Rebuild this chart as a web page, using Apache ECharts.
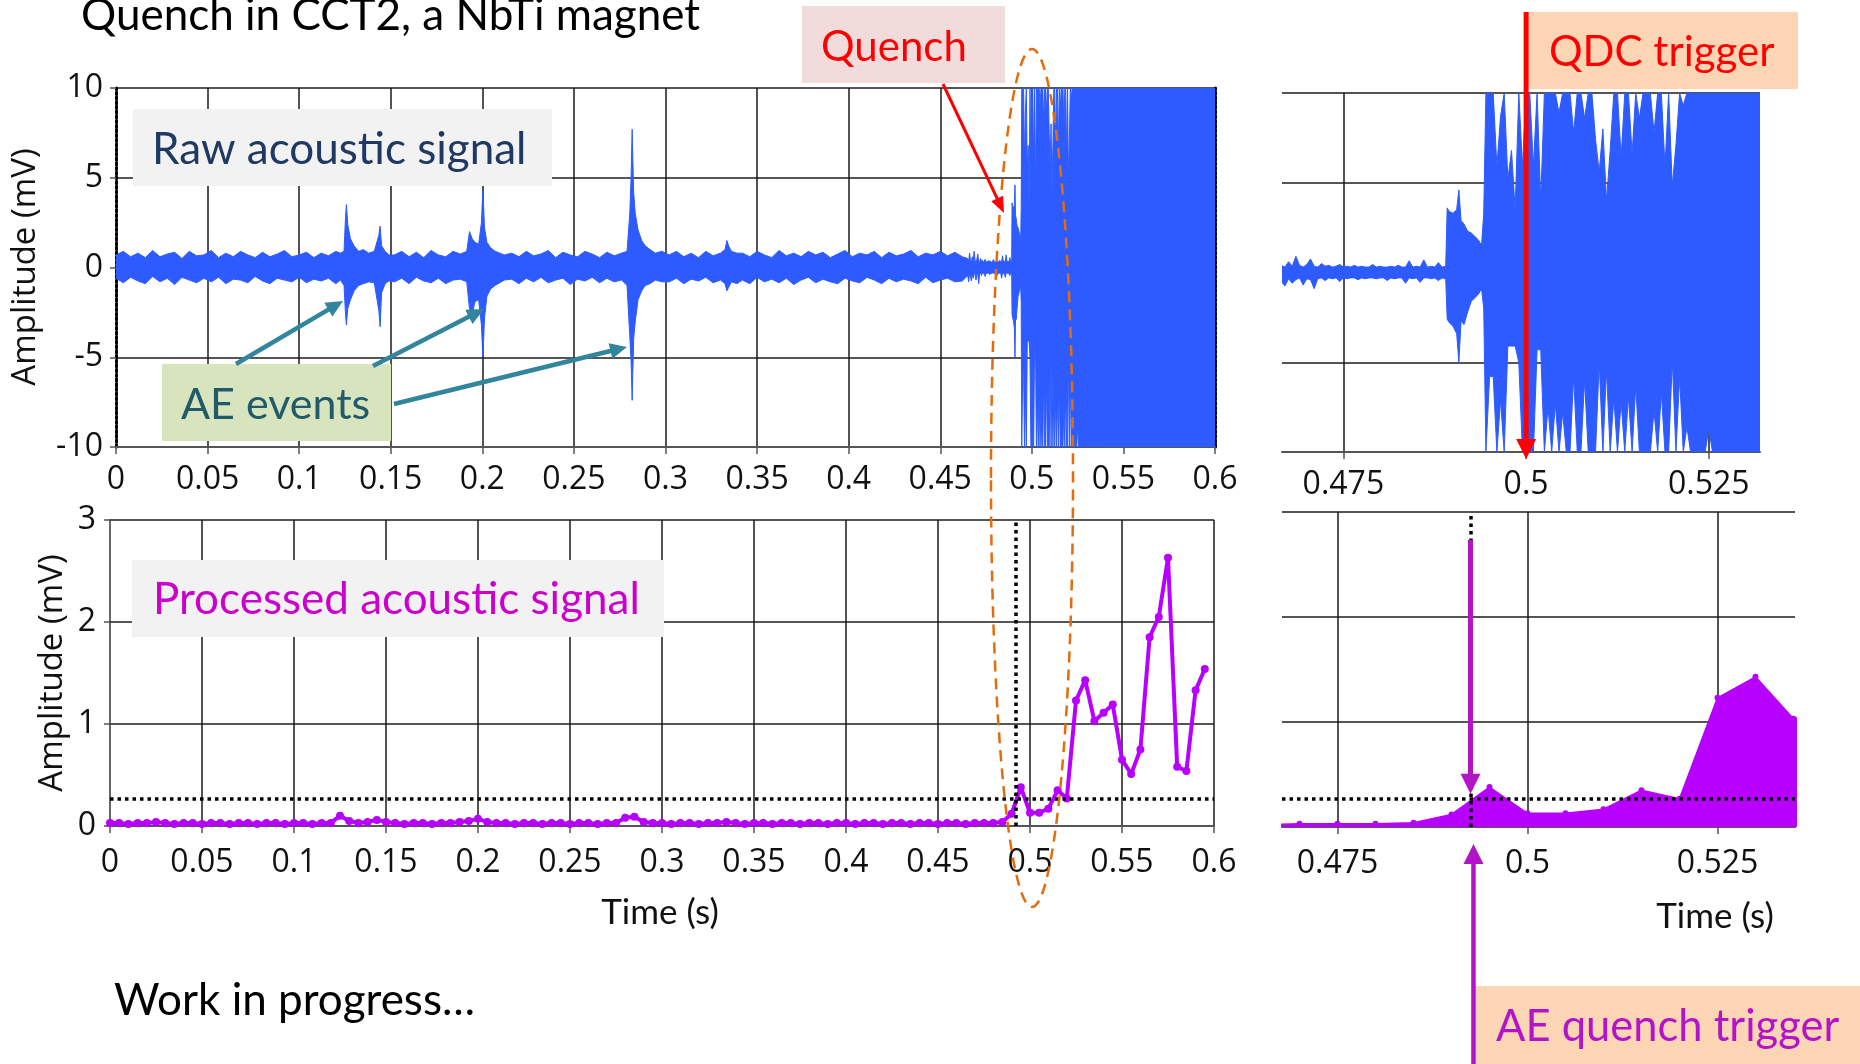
<!DOCTYPE html>
<html>
<head>
<meta charset="utf-8">
<title>Quench in CCT2</title>
<script src="https://cdn.jsdelivr.net/npm/echarts@6/dist/echarts.min.js"></script>
<style>
  html, body { margin: 0; padding: 0; background: #ffffff; }
  #chart { width: 1860px; height: 1064px; }
</style>
</head>
<body>
<div id="chart"></div>
<script>
// ---------------------------------------------------------------------------
// Raw acoustic signal, drawn as its min/max envelope (mV) over time (s).
// ---------------------------------------------------------------------------
const rawTime = [
  // quiet stretch
  0, 0.004, 0.008, 0.012, 0.016, 0.020, 0.024, 0.028, 0.032, 0.036,
  0.040, 0.044, 0.048, 0.052, 0.056, 0.060, 0.064, 0.068, 0.072, 0.076,
  0.080, 0.084, 0.088, 0.092, 0.096, 0.100, 0.104, 0.108, 0.112, 0.116,
  0.120,
  // AE events near 0.125 s and 0.144 s
  0.1225, 0.1245, 0.1253, 0.1258, 0.1265, 0.128, 0.130, 0.1325, 0.135, 0.138,
  0.141, 0.1435, 0.1442, 0.145, 0.147, 0.149,
  // quiet
  0.152, 0.156, 0.160, 0.164, 0.168, 0.172, 0.176, 0.180, 0.184, 0.188,
  // AE event near 0.2 s
  0.1915, 0.1930, 0.1945, 0.1960, 0.1980, 0.1995, 0.2003, 0.2012, 0.2025, 0.2045,
  0.2070, 0.2095, 0.2120,
  // quiet
  0.216, 0.220, 0.224, 0.228, 0.232, 0.236, 0.240, 0.244, 0.248, 0.252,
  0.256, 0.260, 0.264, 0.268, 0.272, 0.276,
  // AE event near 0.282 s
  0.2790, 0.2805, 0.2812, 0.2818, 0.2826, 0.2835, 0.2850, 0.2870, 0.2890, 0.2915,
  0.2945, 0.2980,
  // quiet
  0.302, 0.306, 0.310, 0.314, 0.318, 0.322, 0.326, 0.330,
  // small event near 0.334 s
  0.3325, 0.3335, 0.3345, 0.3360, 0.3390,
  // quiet
  0.342, 0.346, 0.350, 0.354, 0.358, 0.362, 0.366, 0.370, 0.374, 0.378,
  0.382, 0.386, 0.390, 0.394, 0.398, 0.402, 0.406, 0.410, 0.414, 0.418,
  0.422, 0.426, 0.430, 0.434, 0.438, 0.442, 0.446, 0.450, 0.454, 0.458,
  0.462,
  // fine-sampled quiet stretch before the quench
  0.4650, 0.4655, 0.4660, 0.4665, 0.4670, 0.4675, 0.4680, 0.4685, 0.4690, 0.4695,
  0.4700, 0.4705, 0.4710, 0.4715, 0.4720, 0.4725, 0.4730, 0.4735, 0.4740, 0.4745,
  0.4750, 0.4755, 0.4760, 0.4765, 0.4770, 0.4775, 0.4780, 0.4785, 0.4790, 0.4795,
  0.4800, 0.4805, 0.4810, 0.4815, 0.4820, 0.4825, 0.4830, 0.4835, 0.4840, 0.4845,
  0.4850, 0.4855, 0.4860, 0.4865, 0.4870, 0.4875, 0.4880, 0.4885, 0.4890,
  // precursor burst
  0.4892, 0.4895, 0.4900, 0.4905, 0.4908, 0.4911, 0.4915, 0.4920, 0.4925, 0.4930,
  0.4935, 0.4939, 0.4942,
  // quench: amplifier saturated at +/-10 mV
  0.4945, 0.4950, 0.4955, 0.4960, 0.4965, 0.4970, 0.4975, 0.4980, 0.4985, 0.4990,
  0.4995, 0.5000, 0.5005, 0.5010, 0.5015, 0.5020, 0.5025, 0.5030, 0.5035, 0.5040,
  0.5045, 0.5050, 0.5055, 0.5060, 0.5065, 0.5070, 0.5075, 0.5080, 0.5085, 0.5090,
  0.5095, 0.5100, 0.5105, 0.5110, 0.5115, 0.5120, 0.5125, 0.5130, 0.5135, 0.5140,
  0.5145, 0.5150, 0.5155, 0.5160, 0.5165, 0.5170, 0.5175, 0.5180, 0.5185, 0.5190,
  0.5195, 0.5200, 0.5205, 0.5210, 0.5215, 0.5220, 0.5225, 0.5230, 0.5235, 0.5240,
  0.5245, 0.5250, 0.5255, 0.5260, 0.5265, 0.5270, 0.5275, 0.5280, 0.5285, 0.5290,
  0.5295, 0.5300, 0.5305, 0.5310, 0.5315, 0.5320,
  0.5360, 0.6000
];

const rawHigh = [
  0.7, 0.9, 0.6, 0.8, 0.55, 0.95, 0.6, 0.75, 0.85, 0.5,
  0.9, 0.65, 0.7, 0.95, 0.55, 0.8, 0.6, 0.9, 0.7, 0.55,
  0.85, 0.6, 0.75, 0.95, 0.6, 0.7, 0.85, 0.55, 0.8, 0.65,
  0.9,
  0.8, 0.9, 2.8, 3.5, 2.4, 1.6, 1.2, 0.9, 1.0, 0.8,
  0.9, 1.8, 2.3, 1.2, 0.9, 0.7,
  0.7, 0.9, 0.6, 0.85, 0.55, 0.95, 0.7, 0.6, 0.9, 0.75,
  0.9, 2.0, 1.6, 1.4, 1.3, 2.5, 4.3, 2.2, 1.4, 1.1,
  0.9, 0.8, 0.7,
  0.8, 0.6, 0.9, 0.65, 0.75, 0.95, 0.55, 0.85, 0.7, 0.6,
  0.9, 0.75, 0.55, 0.85, 0.65, 0.8,
  0.9, 3.0, 5.0, 7.7, 4.2, 3.0, 2.1, 1.5, 1.2, 1.0,
  0.8, 0.9,
  0.7, 0.9, 0.6, 0.8, 0.55, 0.9, 0.65, 0.8,
  1.0, 1.5, 1.2, 0.9, 0.8,
  0.8, 0.6, 0.9, 0.7, 0.55, 0.95, 0.65, 0.8, 0.6, 0.9,
  0.7, 0.85, 0.55, 0.75, 0.95, 0.6, 0.8, 0.7, 0.9, 0.55,
  0.85, 0.65, 0.75, 0.95, 0.6, 0.8, 0.7, 0.9, 0.65, 0.85,
  0.6,
  0.5, 0.35, 0.8, 0.4, 0.3, 0.6, 0.35, 0.9, 0.4, 0.3,
  0.45, 0.75, 0.35, 0.3, 0.5, 0.35, 0.4, 0.3, 0.35, 0.45,
  0.3, 0.35, 0.3, 0.4, 0.3, 0.35, 0.3, 0.3, 0.45, 0.3,
  0.35, 0.3, 0.3, 0.35, 0.3, 0.4, 0.3, 0.3, 0.65, 0.3,
  0.35, 0.3, 0.7, 0.3, 0.35, 0.3, 0.55, 0.3, 0.35,
  3.6, 3.4, 3.3, 3.5, 4.6, 2.9, 2.7, 2.3, 2.2, 2.0,
  1.8, 1.5, 3.3,
  10, 10, 10, 5.9, 8.7, 10, 5.2, 6.8, 3.5, 10,
  5.9, 10, 10, 5.9, 10, 4.0, 10, 10, 10, 10,
  8.9, 10, 10, 10, 7.8, 10, 10, 8.6, 10, 10,
  7.4, 5.6, 8.0, 4.0, 6.8, 10, 10, 6.4, 10, 10,
  6.6, 10, 8.6, 10, 10, 10, 7.8, 10, 10, 5.9,
  10, 4.8, 7.1, 10, 9.3, 10, 10, 10, 10, 10,
  10, 10, 10, 10, 10, 10, 10, 10, 10, 10,
  10, 10, 10, 10, 10, 10,
  10, 10
];

const rawLow = [
  -0.6, -0.85, -0.55, -0.75, -0.9, -0.5, -0.8, -0.6, -0.95, -0.55,
  -0.7, -0.85, -0.6, -0.8, -0.55, -0.9, -0.65, -0.7, -0.85, -0.5,
  -0.75, -0.9, -0.6, -0.7, -0.8, -0.55, -0.85, -0.65, -0.75, -0.6,
  -0.9,
  -0.7, -1.0, -2.6, -3.2, -2.3, -1.8, -1.3, -1.0, -0.9, -0.8,
  -0.85, -2.4, -3.3, -1.4, -0.9, -0.75,
  -0.8, -0.6, -0.9, -0.55, -0.75, -0.85, -0.6, -0.9, -0.7, -0.65,
  -0.8, -2.3, -2.6, -1.9, -1.8, -3.2, -5.0, -2.8, -1.6, -1.2,
  -1.0, -0.85, -0.7,
  -0.65, -0.9, -0.6, -0.8, -0.55, -0.85, -0.7, -0.6, -0.95, -0.65,
  -0.75, -0.55, -0.85, -0.6, -0.8, -0.7,
  -1.0, -3.8, -5.2, -7.4, -4.0, -3.0, -1.8, -1.3, -1.0, -0.9,
  -0.7, -0.8,
  -0.8, -0.6, -0.9, -0.65, -0.75, -0.55, -0.85, -0.7,
  -0.9, -1.3, -1.1, -0.8, -0.9,
  -0.7, -0.9, -0.55, -0.8, -0.65, -0.85, -0.6, -0.95, -0.7, -0.55,
  -0.85, -0.65, -0.8, -0.9, -0.6, -0.75, -0.85, -0.55, -0.7, -0.9,
  -0.6, -0.8, -0.65, -0.75, -0.9, -0.55, -0.85, -0.7, -0.6, -0.8,
  -0.75,
  -0.45, -0.8, -0.35, -0.5, -0.75, -0.35, -0.6, -0.4, -0.3, -0.7,
  -0.35, -0.4, -0.9, -0.35, -0.3, -0.45, -0.3, -0.35, -0.3, -0.5,
  -0.3, -0.35, -0.3, -0.3, -0.4, -0.3, -0.35, -0.3, -0.3, -0.35,
  -0.3, -0.3, -0.45, -0.3, -0.35, -0.3, -0.3, -0.6, -0.3, -0.35,
  -0.3, -0.55, -0.3, -0.3, -0.35, -0.3, -0.45, -0.3, -0.35,
  -2.6, -2.8, -3.0, -3.4, -5.0, -2.7, -2.9, -2.2, -1.6, -1.4,
  -1.2, -0.9, -2.0,
  -10, -5.8, -5.8, -10, -7.1, -10, -4.1, -4.1, -4.1, -5.0,
  -10, -10, -10, -10, -4.3, -4.3, -10, -7.5, -10, -7.3,
  -10, -7.8, -10, -10, -5.8, -10, -10, -6.0, -10, -10,
  -10, -5.0, -10, -5.4, -10, -7.0, -10, -7.2, -10, -6.9,
  -10, -6.3, -10, -10, -10, -10, -7.7, -10, -6.7, -10,
  -10, -4.9, -10, -5.8, -10, -8.6, -10, -10, -10, -10,
  -10, -8.7, -10, -10, -10, -10, -10, -10, -10, -10,
  -10, -10, -10, -10, -10, -10,
  -10, -10
];

// ---------------------------------------------------------------------------
// Processed acoustic signal (mV), one value every 5 ms starting at t = 0.
// ---------------------------------------------------------------------------
const procStep = 0.005;
const procValues = [
  0.03, 0.03, 0.02, 0.03, 0.03, 0.04, 0.03, 0.02, 0.03, 0.03,
  0.02, 0.03, 0.03, 0.02, 0.03, 0.03, 0.02, 0.03, 0.03, 0.02,
  0.03, 0.03, 0.02, 0.03, 0.03, 0.10, 0.05, 0.03, 0.04, 0.06,
  0.04, 0.03, 0.02, 0.03, 0.03, 0.02, 0.03, 0.03, 0.04, 0.05,
  0.07, 0.04, 0.03, 0.03, 0.02, 0.03, 0.03, 0.02, 0.03, 0.03,
  0.02, 0.03, 0.03, 0.02, 0.03, 0.03, 0.08, 0.09, 0.04, 0.03,
  0.03, 0.02, 0.03, 0.03, 0.02, 0.03, 0.03, 0.04, 0.03, 0.02,
  0.03, 0.03, 0.02, 0.03, 0.03, 0.02, 0.03, 0.03, 0.02, 0.03,
  0.03, 0.02, 0.03, 0.03, 0.02, 0.03, 0.03, 0.02, 0.03, 0.03,
  0.02, 0.03, 0.03, 0.02, 0.03, 0.03, 0.03, 0.04, 0.12, 0.38,
  0.13, 0.13, 0.17, 0.35, 0.27, 1.23, 1.43, 1.03, 1.11, 1.19,
  0.65, 0.51, 0.75, 1.85, 2.05, 2.63, 0.58, 0.54, 1.33, 1.54
];

// Trigger settings
const aeThreshold = 0.27;      // mV, AE quench-detection threshold
const aeTriggerTime = 0.4925;  // s, processed signal crosses the threshold
const qdcTriggerTime = 0.5;    // s, quench detection circuit trigger

// Axis ranges and tick labels
const fullRange = [0, 0.6];
const fullTickStep = 0.05;
const zoomTicks = [0.475, 0.5, 0.525];
const zoomRawRange = [0.4666, 0.532];
const zoomProcRange = [0.4677, 0.5352];
const rawRange = [-10, 10];
const procRange = [0, 3];

// ---------------------------------------------------------------------------
const rawColor = '#2d5bff';
const procColor = '#b700ff';
const tickFont = { fontFamily: '"Open Sans", sans-serif', fontSize: 32, color: '#111' };
const hGrid = { color: '#555', width: 2 };
const vGrid = { color: '#1a1a1a', width: 1.5 };
const axisGray = { color: '#555', width: 2 };

const procData = procValues.map((v, i) => [+(i * procStep).toFixed(3), v]);

function envelopeSeries(axisIndex) {
  return {
    type: 'custom',
    xAxisIndex: axisIndex,
    yAxisIndex: axisIndex,
    clip: true,
    silent: true,
    data: [[0.5, 0]],
    renderItem(params, api) {
      const pts = [];
      for (let i = 0; i < rawTime.length; i++) pts.push(api.coord([rawTime[i], rawHigh[i]]));
      for (let i = rawTime.length - 1; i >= 0; i--) pts.push(api.coord([rawTime[i], rawLow[i]]));
      const cs = params.coordSys;
      return {
        type: 'group',
        clipPath: { type: 'rect', shape: { x: cs.x, y: cs.y - 1, width: cs.width, height: cs.height + 1 } },
        children: [{
          type: 'polygon',
          shape: { points: pts },
          style: { fill: rawColor, stroke: rawColor, lineWidth: 1 }
        }]
      };
    }
  };
}

function triggerMarks() {
  return {
    silent: true,
    symbol: ['none', 'none'],
    label: { show: false },
    animation: false,
    lineStyle: { color: '#000', width: 3.5, type: [3.5, 4] },
    data: [
      { yAxis: aeThreshold },
      [{ coord: [aeTriggerTime, procRange[0]] }, { coord: [aeTriggerTime, procRange[1]] }]
    ]
  };
}

const dottedBorder = { color: '#000', width: 3, type: [2.5, 2.2] };

const option = {
  animation: false,
  backgroundColor: '#ffffff',
  grid: [
    { left: 116, top: 88, width: 1099, height: 359, outerBoundsMode: 'none' },
    { left: 1282, top: 93, width: 478, height: 359, outerBoundsMode: 'none' },
    { left: 110, top: 520, width: 1104, height: 306, outerBoundsMode: 'none' },
    { left: 1282, top: 512, width: 513, height: 315, outerBoundsMode: 'none' }
  ],
  xAxis: [
    {
      gridIndex: 0, type: 'value', min: fullRange[0], max: fullRange[1], interval: fullTickStep,
      axisLine: { show: true, onZero: false, lineStyle: axisGray },
      axisTick: { show: true, length: 7, lineStyle: { color: '#555', width: 1.5 } },
      axisLabel: Object.assign({ margin: 17 }, tickFont),
      splitLine: { show: true, showMinLine: false, showMaxLine: false, lineStyle: vGrid }
    },
    {
      gridIndex: 1, type: 'value', min: zoomRawRange[0], max: zoomRawRange[1],
      axisLine: { show: true, onZero: false, lineStyle: axisGray },
      axisTick: { show: true, length: 7, customValues: zoomTicks, lineStyle: { color: '#555', width: 1.5 } },
      axisLabel: Object.assign({ margin: 17, customValues: zoomTicks }, tickFont),
      splitLine: { show: true, lineStyle: vGrid }
    },
    {
      gridIndex: 2, type: 'value', min: fullRange[0], max: fullRange[1], interval: fullTickStep,
      axisLine: { show: true, onZero: false, lineStyle: axisGray },
      axisTick: { show: true, length: 7, lineStyle: { color: '#555', width: 1.5 } },
      axisLabel: Object.assign({ margin: 21 }, tickFont),
      splitLine: { show: true, showMinLine: false, showMaxLine: true, lineStyle: vGrid }
    },
    {
      gridIndex: 3, type: 'value', min: zoomProcRange[0], max: zoomProcRange[1],
      axisLine: { show: true, onZero: false, lineStyle: axisGray },
      axisTick: { show: true, length: 7, customValues: zoomTicks, lineStyle: { color: '#555', width: 1.5 } },
      axisLabel: Object.assign({ margin: 21, customValues: zoomTicks }, tickFont),
      splitLine: { show: true, lineStyle: vGrid }
    }
  ],
  yAxis: [
    {
      gridIndex: 0, type: 'value', min: rawRange[0], max: rawRange[1], interval: 5,
      axisLine: { show: true, onZero: false, lineStyle: dottedBorder },
      axisTick: { show: true, length: 6, lineStyle: { color: '#555', width: 1.5 } },
      axisLabel: Object.assign({ margin: 13 }, tickFont),
      splitLine: { show: true, lineStyle: hGrid }
    },
    {
      gridIndex: 1, type: 'value', min: rawRange[0], max: rawRange[1], interval: 5,
      axisLine: { show: false }, axisTick: { show: false }, axisLabel: { show: false },
      splitLine: { show: true, lineStyle: hGrid }
    },
    {
      gridIndex: 2, type: 'value', min: procRange[0], max: procRange[1], interval: 1,
      axisLine: { show: true, onZero: false, lineStyle: { color: '#333', width: 1.5 } },
      axisTick: { show: true, length: 6, lineStyle: { color: '#555', width: 1.5 } },
      axisLabel: Object.assign({ margin: 14 }, tickFont),
      splitLine: { show: true, lineStyle: hGrid }
    },
    {
      gridIndex: 3, type: 'value', min: procRange[0], max: procRange[1], interval: 1,
      axisLine: { show: false }, axisTick: { show: false }, axisLabel: { show: false },
      splitLine: { show: true, lineStyle: hGrid }
    },
    {
      // dotted right-hand border of the raw-signal panel
      gridIndex: 0, type: 'value', position: 'right', min: rawRange[0], max: rawRange[1],
      axisLine: { show: true, onZero: false, lineStyle: dottedBorder },
      axisTick: { show: false }, axisLabel: { show: false }, splitLine: { show: false }
    }
  ],
  series: [
    envelopeSeries(0),
    envelopeSeries(1),
    {
      type: 'line', xAxisIndex: 2, yAxisIndex: 2, data: procData,
      symbol: 'circle', symbolSize: 8, showSymbol: true,
      lineStyle: { color: procColor, width: 4 },
      itemStyle: { color: procColor },
      silent: true,
      markLine: triggerMarks()
    },
    {
      type: 'line', xAxisIndex: 3, yAxisIndex: 3, data: procData,
      symbol: 'circle', symbolSize: 6, showSymbol: true, clip: true,
      lineStyle: { color: procColor, width: 1.5 },
      itemStyle: { color: procColor },
      areaStyle: { color: procColor, opacity: 1 },
      silent: true,
      markLine: triggerMarks()
    }
  ]
};

const chart = echarts.init(document.getElementById('chart'), null, { renderer: 'canvas' });
chart.setOption(option);

// ---------------------------------------------------------------------------
// Annotations
// ---------------------------------------------------------------------------
const calibriLike = '"Lato", "Open Sans", sans-serif';

function label(text, x, y, size, color, align) {
  return {
    type: 'text', x: x, y: y, z: 120,
    style: {
      text: text, fontSize: size, fontFamily: calibriLike, fill: color,
      align: align || 'left', verticalAlign: 'middle'
    }
  };
}

function box(x, y, w, h, color) {
  return { type: 'rect', z: 110, shape: { x: x, y: y, width: w, height: h }, style: { fill: color } };
}

function arrow(x1, y1, x2, y2, color, width, headLen, headWidth) {
  const dx = x2 - x1, dy = y2 - y1, len = Math.hypot(dx, dy);
  const ux = dx / len, uy = dy / len;
  const bx = x2 - ux * headLen, by = y2 - uy * headLen;
  return [
    { type: 'line', z: 130, shape: { x1: x1, y1: y1, x2: bx + ux, y2: by + uy },
      style: { stroke: color, lineWidth: width } },
    { type: 'polygon', z: 130,
      shape: { points: [[x2, y2], [bx - uy * headWidth / 2, by + ux * headWidth / 2], [bx + uy * headWidth / 2, by - ux * headWidth / 2]] },
      style: { fill: color } }
  ];
}

const qdcX = chart.convertToPixel({ xAxisIndex: 1 }, qdcTriggerTime);
const rawBottomY = chart.convertToPixel({ yAxisIndex: 1 }, rawRange[0]);
const aeX = chart.convertToPixel({ xAxisIndex: 3 }, aeTriggerTime);
const aeY = chart.convertToPixel({ yAxisIndex: 3 }, aeThreshold);
const procZeroY = chart.convertToPixel({ yAxisIndex: 3 }, procRange[0]);

const teal = '#31859c';
const aeColor = '#b414c8';

const axisTitleStyle = {
  text: 'Amplitude (mV)', fontSize: 33, fontFamily: '"Open Sans", sans-serif',
  fill: '#111', align: 'center', verticalAlign: 'middle'
};

const graphics = [
  // headline
  label('Quench in CCT2, a NbTi magnet', 81, 16, 44, '#000'),

  // panel captions
  box(133, 109, 419, 77, '#f2f2f2'),
  label('Raw acoustic signal', 152, 150, 44, '#1f3864'),
  box(132, 560, 532, 77, '#f2f2f2'),
  label('Processed acoustic signal', 153, 600, 44, '#cc00cc'),

  // AE events callout
  box(162, 364, 229, 77, '#d7e4bd'),
  label('AE events', 181, 405, 43, '#215a68'),
  ...arrow(236, 364, 343, 301, teal, 4.5, 17, 16),
  ...arrow(373, 366, 484, 309, teal, 4.5, 17, 16),
  ...arrow(394, 404, 627, 347, teal, 4.5, 17, 16),

  // quench callout
  box(802, 6, 203, 77, '#f2dcdb'),
  label('Quench', 821, 47, 42, '#ff0000'),
  ...arrow(943, 84, 1004, 213, '#ff0000', 3, 16, 13),
  {
    type: 'ellipse', z: 125,
    shape: { cx: 1032, cy: 478, rx: 41, ry: 429 },
    style: { fill: 'none', stroke: '#e46c0a', lineWidth: 2.5, lineDash: [11, 7] }
  },

  // QDC trigger
  box(1527, 12, 271, 77, '#fcd5b5'),
  label('QDC trigger', 1549, 52, 42, '#ff0000'),
  ...arrow(qdcX, 12, qdcX, rawBottomY + 7, '#ff0000', 5, 20, 20),

  // AE quench trigger
  ...arrow(aeX, 540, aeX, aeY - 5, aeColor, 5, 20, 20),
  ...arrow(aeX + 3, 1064, aeX + 3, procZeroY + 17, aeColor, 4.5, 20, 20),
  box(1475, 986, 385, 78, '#fcd5b5'),
  label('AE quench trigger', 1496, 1027, 43.5, aeColor),

  // axis titles
  { type: 'text', x: 26, y: 267, rotation: Math.PI / 2, z: 120, style: Object.assign({}, axisTitleStyle) },
  { type: 'text', x: 53, y: 673, rotation: Math.PI / 2, z: 120, style: Object.assign({}, axisTitleStyle) },
  label('Time (s)', 660, 913, 35, '#111', 'center'),
  label('Time (s)', 1715, 917, 35, '#111', 'center'),

  // footer
  label('Work in progress\u2026', 114, 1001, 44, '#000')
];

chart.setOption({ graphic: graphics });
</script>
</body>
</html>
